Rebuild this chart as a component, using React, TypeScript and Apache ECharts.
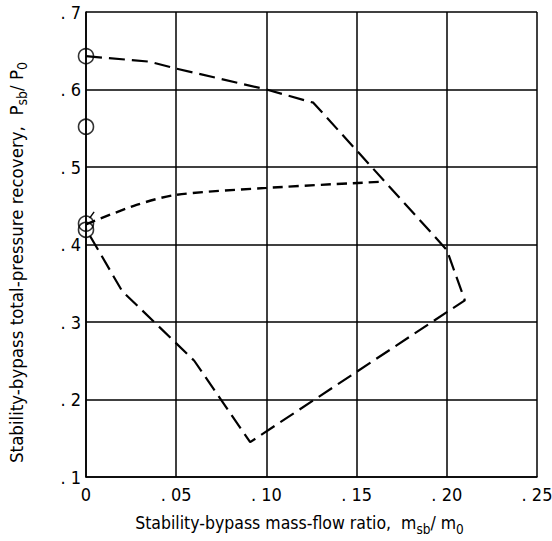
import React, { useEffect, useRef } from "react";
import * as echarts from "echarts";

const curveA: [number, number][] = [
  [0, 0.643], [0.035, 0.636], [0.05, 0.627], [0.1, 0.6], [0.126, 0.583],
  [0.2, 0.393], [0.21, 0.328], [0.091, 0.145], [0.06, 0.25], [0.02, 0.34], [0, 0.42],
];
const curveB: [number, number][] = [
  [0, 0.426], [0.028, 0.451], [0.05, 0.464], [0.1, 0.473], [0.164, 0.481],
];
const circles: [number, number][] = [
  [0, 0.643], [0, 0.552], [0, 0.427], [0, 0.419],
];
const flag: [number, number][] = [
  [0.002, 0.434], [0.0045, 0.442],
];

const FONT = "DejaVu Sans Condensed, DejaVu Sans, sans-serif";

export default function App() {
  const ref = useRef<HTMLDivElement>(null);
  useEffect(() => {
    if (!ref.current) return;
    const chart = echarts.init(ref.current, null, { renderer: "svg" });
    const rich = {
      m: { fontSize: 17.5, fontFamily: FONT, color: "#000", lineHeight: 24 },
      s: { fontSize: 13.5, fontFamily: FONT, color: "#000", lineHeight: 24, padding: [11, 0, 0, 0] },
    };
    const richY = {
      m: { fontSize: 18.5, fontFamily: FONT, color: "#000", lineHeight: 24 },
      s: { fontSize: 14, fontFamily: FONT, color: "#000", lineHeight: 24, padding: [11, 0, 0, 0] },
    };
    chart.setOption({
      animation: false,
      backgroundColor: "#fff",
      grid: { left: 86, right: 15, top: 12, bottom: 64, outerBoundsMode: "none", containLabel: false },
      xAxis: {
        type: "value",
        min: 0,
        max: 0.25,
        interval: 0.05,
        name: "{m|Stability-bypass mass-flow ratio,  m}{s|sb}{m|/ m}{s|0}",
        nameLocation: "middle",
        nameGap: 34,
        nameTextStyle: { rich, padding: [0, 24, 0, 0] },
        axisLine: { show: true, lineStyle: { color: "#000", width: 1.6 } },
        axisTick: { show: false },
        axisLabel: {
          color: "#000",
          fontSize: 18,
          fontFamily: FONT,
          margin: 8,
          formatter: (v: number) => (v === 0 ? "0" : ". " + Math.round(v * 100).toString().padStart(2, "0")),
        },
        splitLine: { show: true, lineStyle: { color: "#000", width: 1.5 } },
      },
      yAxis: {
        type: "value",
        min: 0.1,
        max: 0.7,
        interval: 0.1,
        name: "{m|Stability-bypass total-pressure recovery,  P}{s|sb}{m|/ P}{s|0}",
        nameLocation: "middle",
        nameGap: 58,
        nameTextStyle: { rich: richY, padding: [0, 36, 0, 0] },
        axisLine: { show: true, lineStyle: { color: "#000", width: 1.6 } },
        axisTick: { show: false },
        axisLabel: {
          color: "#000",
          fontSize: 18,
          fontFamily: FONT,
          margin: 5,
          formatter: (v: number) => ". " + Math.round(v * 10).toString(),
        },
        splitLine: { show: true, lineStyle: { color: "#000", width: 1.5 } },
      },
      series: [
        {
          type: "line",
          data: curveA,
          symbol: "none",
          lineStyle: { color: "#000", width: 2.2, type: [16, 7] },
        },
        {
          type: "line",
          data: curveB,
          symbol: "none",
          smooth: 0.3,
          lineStyle: { color: "#000", width: 2.4, type: [10, 6] },
        },
        {
          type: "line",
          data: flag,
          symbol: "none",
          clip: false,
          lineStyle: { color: "#000", width: 1.4 },
        },
        {
          type: "scatter",
          data: circles,
          symbol: "circle",
          symbolSize: 15,
          clip: false,
          itemStyle: { color: "rgba(255,255,255,0)", borderColor: "#000", borderWidth: 1.6 },
          z: 5,
        },
      ],
    });
    return () => chart.dispose();
  }, []);
  return <div ref={ref} style={{ width: 552, height: 541, position: "absolute", left: 0, top: 0 }} />;
}
